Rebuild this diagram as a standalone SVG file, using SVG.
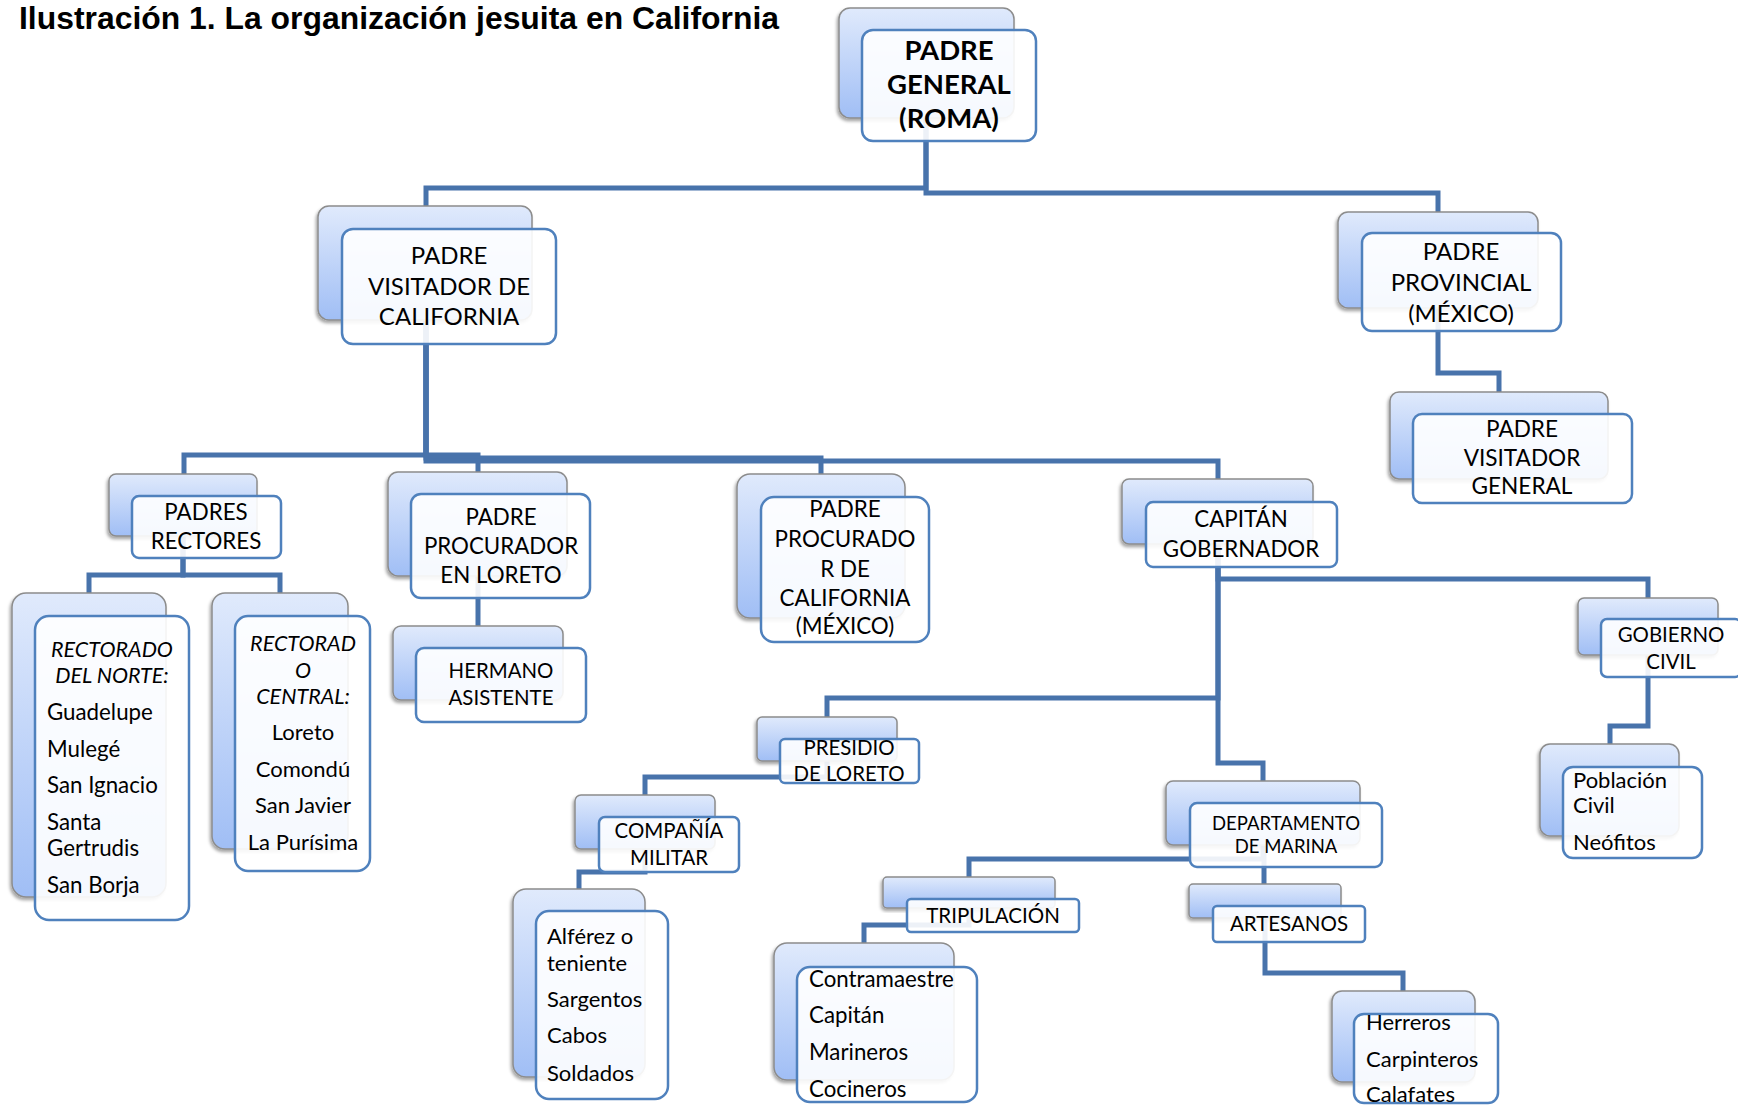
<svg xmlns="http://www.w3.org/2000/svg" width="1738" height="1105" viewBox="0 0 1738 1105">
<defs>
<linearGradient id="g" x1="0" y1="0" x2="0" y2="1">
<stop offset="0" stop-color="#e0eafc"/>
<stop offset="1" stop-color="#a0bef5"/>
</linearGradient>
<filter id="sh" x="-10%" y="-10%" width="120%" height="125%">
<feDropShadow dx="-1.5" dy="2.5" stdDeviation="1.6" flood-color="#000" flood-opacity="0.35"/>
</filter>
</defs>
<style>
.bk{fill:url(#g);stroke:#8c8c8c;stroke-width:1.5;filter:url(#sh)}
.fr{fill:#fff;fill-opacity:0.9;stroke:#4f81bd;stroke-width:2.5}
.cn{fill:none;stroke:#4873ab;stroke-width:5;stroke-linejoin:miter}
text{font-family:Lato,"Open Sans",sans-serif;fill:#000}
.c{text-anchor:middle}
.l{text-anchor:start}
.b{font-weight:bold}
.i{font-style:italic}
.s26{font-size:24px}
.s24{font-size:22px}
.s23{font-size:21.5px}
.s22{font-size:20.5px}
.s21{font-size:19.5px}
.ls{font-size:22.3px}
.x93{transform-box:fill-box;transform-origin:center;transform:scaleX(0.93)}
.x95{transform-box:fill-box;transform-origin:center;transform:scaleX(0.95)}
.title{font-family:"Liberation Sans",Arial,sans-serif;font-weight:bold;font-size:31.5px}
</style>
<text class="title" x="19" y="29" textLength="760" lengthAdjust="spacingAndGlyphs">Ilustración 1. La organización jesuita en California</text>
<g id="connectors">
<path class="cn" d="M926,118 V188 H426 V206"/>
<path class="cn" d="M926,118 V193 H1438 V212"/>
<path class="cn" d="M426,320 V455 H184 V474"/>
<path class="cn" d="M426,320 V455 H478 V472"/>
<path class="cn" d="M426,320 V458 H821 V474"/>
<path class="cn" d="M426,320 V461 H1218 V479"/>
<path class="cn" d="M1438,308 V373 H1499 V392"/>
<path class="cn" d="M183,536 V575 H89 V593"/>
<path class="cn" d="M183,536 V575 H280 V593"/>
<path class="cn" d="M478,576 V626"/>
<path class="cn" d="M1218,544 V579 H1648 V598"/>
<path class="cn" d="M1218,544 V698 H827 V717"/>
<path class="cn" d="M1218,544 V763 H1263 V781"/>
<path class="cn" d="M1648,655 V726 H1610 V744"/>
<path class="cn" d="M827,761 V777 H645 V795"/>
<path class="cn" d="M645,849 V872 H579 V889"/>
<path class="cn" d="M1263,845 V859 H969 V877"/>
<path class="cn" d="M1264,845 V884"/>
<path class="cn" d="M969,908 V925 H864 V943"/>
<path class="cn" d="M1265,918 V973 H1403 V991"/>
</g>
<g id="padre-general">
<rect class="bk" x="839" y="8" width="175" height="110" rx="11"/>
<rect class="fr" x="862" y="30" width="174" height="111" rx="11"/>
<text class="c b" style="font-size:27.5px"><tspan x="949" y="60">PADRE</tspan><tspan x="949" y="94">GENERAL</tspan><tspan x="949" y="128">(ROMA)</tspan></text>
</g>
<g id="visitador-california">
<rect class="bk" x="318" y="206" width="214" height="114" rx="11"/>
<rect class="fr" x="342" y="229" width="214" height="115" rx="11"/>
<text class="c s26"><tspan x="449" y="264">PADRE</tspan><tspan x="449" y="295">VISITADOR DE</tspan><tspan x="449" y="325">CALIFORNIA</tspan></text>
</g>
<g id="provincial">
<rect class="bk" x="1338" y="212" width="200" height="96" rx="10"/>
<rect class="fr" x="1362" y="233" width="199" height="98" rx="10"/>
<text class="c s26"><tspan x="1461" y="260">PADRE</tspan><tspan x="1461" y="291">PROVINCIAL</tspan><tspan x="1461" y="322">(MÉXICO)</tspan></text>
</g>
<g id="visitador-general">
<rect class="bk" x="1390" y="392" width="218" height="87" rx="9"/>
<rect class="fr" x="1413" y="414" width="219" height="89" rx="9"/>
<text class="c" style="font-size:22.6px"><tspan x="1522" y="437">PADRE</tspan><tspan x="1522" y="466">VISITADOR</tspan><tspan x="1522" y="494">GENERAL</tspan></text>
</g>
<g id="padres-rectores">
<rect class="bk" x="109" y="474" width="148" height="62" rx="7"/>
<rect class="fr" x="132" y="496" width="149" height="62" rx="7"/>
<text class="c s26 x93"><tspan x="206" y="520">PADRES</tspan><tspan x="206" y="549">RECTORES</tspan></text>
</g>
<g id="rectorado-norte">
<rect class="bk" x="12" y="593" width="154" height="304" rx="14"/>
<rect class="fr" x="35" y="616" width="154" height="304" rx="14"/>
<text class="c i s23"><tspan x="112" y="657">RECTORADO</tspan><tspan x="112" y="683">DEL NORTE:</tspan></text>
<text class="l ls"><tspan x="47" y="720">Guadelupe</tspan><tspan x="47" y="757">Mulegé</tspan><tspan x="47" y="793">San Ignacio</tspan><tspan x="47" y="830">Santa</tspan><tspan x="47" y="856">Gertrudis</tspan><tspan x="47" y="893">San Borja</tspan></text>
</g>
<g id="rectorado-central">
<rect class="bk" x="212" y="593" width="136" height="256" rx="13"/>
<rect class="fr" x="235" y="616" width="135" height="255" rx="13"/>
<text class="c i s23"><tspan x="303" y="651">RECTORAD</tspan><tspan x="303" y="678">O</tspan><tspan x="303" y="704">CENTRAL:</tspan></text>
<text class="c" style="font-size:22px"><tspan x="303" y="740">Loreto</tspan><tspan x="303" y="777">Comondú</tspan><tspan x="303" y="813">San Javier</tspan><tspan x="303" y="850">La Purísima</tspan></text>
</g>
<g id="procurador-loreto">
<rect class="bk" x="388" y="472" width="179" height="104" rx="10"/>
<rect class="fr" x="411" y="494" width="179" height="104" rx="10"/>
<text class="c s26 x93"><tspan x="501" y="525">PADRE</tspan><tspan x="501" y="554">PROCURADOR</tspan><tspan x="501" y="583">EN LORETO</tspan></text>
</g>
<g id="hermano-asistente">
<rect class="bk" x="393" y="626" width="170" height="74" rx="8"/>
<rect class="fr" x="416" y="648" width="170" height="74" rx="8"/>
<text class="c s23 x95"><tspan x="501" y="678">HERMANO</tspan><tspan x="501" y="705">ASISTENTE</tspan></text>
</g>
<g id="procurador-california">
<rect class="bk" x="737" y="474" width="168" height="144" rx="13"/>
<rect class="fr" x="761" y="497" width="168" height="145" rx="13"/>
<text class="c" style="font-size:22.4px"><tspan x="845" y="517">PADRE</tspan><tspan x="845" y="547">PROCURADO</tspan><tspan x="845" y="577">R DE</tspan><tspan x="845" y="606">CALIFORNIA</tspan><tspan x="845" y="634">(MÉXICO)</tspan></text>
</g>
<g id="capitan-gobernador">
<rect class="bk" x="1122" y="479" width="191" height="65" rx="7"/>
<rect class="fr" x="1146" y="502" width="191" height="65" rx="7"/>
<text class="c s26 x93"><tspan x="1241" y="527">CAPITÁN</tspan><tspan x="1241" y="557">GOBERNADOR</tspan></text>
</g>
<g id="gobierno-civil">
<rect class="bk" x="1578" y="598" width="140" height="57" rx="6"/>
<rect class="fr" x="1601" y="619" width="140" height="58" rx="6"/>
<text class="c s23 x95"><tspan x="1671" y="642">GOBIERNO</tspan><tspan x="1671" y="669">CIVIL</tspan></text>
</g>
<g id="poblacion-civil">
<rect class="bk" x="1540" y="744" width="139" height="92" rx="10"/>
<rect class="fr" x="1563" y="767" width="139" height="91" rx="10"/>
<text class="l" style="font-size:22px"><tspan x="1573" y="788">Población</tspan><tspan x="1573" y="813">Civil</tspan><tspan x="1573" y="850">Neófitos</tspan></text>
</g>
<g id="presidio-loreto">
<rect class="bk" x="757" y="717" width="140" height="44" rx="5"/>
<rect class="fr" x="780" y="739" width="139" height="44" rx="5"/>
<text class="c s23 x95"><tspan x="849" y="755">PRESIDIO</tspan><tspan x="849" y="781">DE LORETO</tspan></text>
</g>
<g id="compania-militar">
<rect class="bk" x="575" y="795" width="140" height="54" rx="6"/>
<rect class="fr" x="599" y="817" width="140" height="55" rx="6"/>
<text class="c s23 x95"><tspan x="669" y="838">COMPAÑÍA</tspan><tspan x="669" y="865">MILITAR</tspan></text>
</g>
<g id="compania-lista">
<rect class="bk" x="513" y="889" width="132" height="188" rx="13"/>
<rect class="fr" x="536" y="911" width="132" height="188" rx="13"/>
<text class="l s24"><tspan x="547" y="944">Alférez o</tspan><tspan x="547" y="971">teniente</tspan><tspan x="547" y="1007">Sargentos</tspan><tspan x="547" y="1043">Cabos</tspan><tspan x="547" y="1081">Soldados</tspan></text>
</g>
<g id="departamento-marina">
<rect class="bk" x="1166" y="781" width="194" height="64" rx="7"/>
<rect class="fr" x="1190" y="803" width="192" height="64" rx="7"/>
<text class="c s21 x95"><tspan x="1286" y="830">DEPARTAMENTO</tspan><tspan x="1286" y="853">DE MARINA</tspan></text>
</g>
<g id="tripulacion">
<rect class="bk" x="883" y="877" width="172" height="31" rx="4"/>
<rect class="fr" x="907" y="899" width="172" height="33" rx="4"/>
<text class="c s22" x="993" y="923">TRIPULACIÓN</text>
</g>
<g id="tripulacion-lista">
<rect class="bk" x="774" y="943" width="180" height="137" rx="13"/>
<rect class="fr" x="797" y="967" width="180" height="135" rx="13"/>
<text class="l ls"><tspan x="809" y="987">Contramaestre</tspan><tspan x="809" y="1023">Capitán</tspan><tspan x="809" y="1060">Marineros</tspan><tspan x="809" y="1097">Cocineros</tspan></text>
</g>
<g id="artesanos">
<rect class="bk" x="1189" y="884" width="152" height="34" rx="4"/>
<rect class="fr" x="1213" y="906" width="152" height="36" rx="4"/>
<text class="c s22" x="1289" y="931">ARTESANOS</text>
</g>
<g id="artesanos-lista">
<rect class="bk" x="1332" y="991" width="143" height="91" rx="10"/>
<rect class="fr" x="1354" y="1014" width="144" height="89" rx="10"/>
<text class="l" style="font-size:22px"><tspan x="1366" y="1030">Herreros</tspan><tspan x="1366" y="1067">Carpinteros</tspan><tspan x="1366" y="1102">Calafates</tspan></text>
</g>
</svg>
